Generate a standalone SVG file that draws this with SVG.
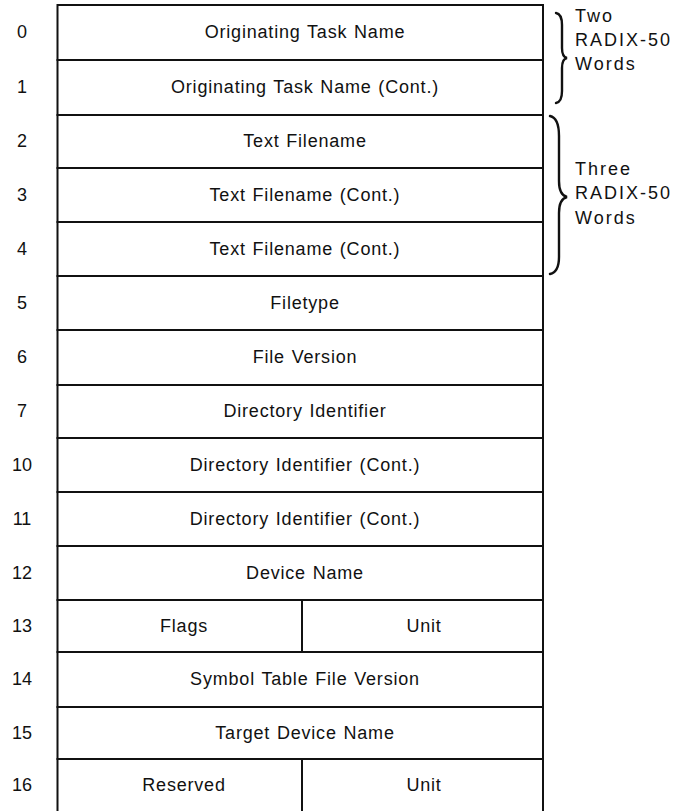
<svg xmlns="http://www.w3.org/2000/svg" width="678" height="811" viewBox="0 0 678 811">
<style>
.cell{fill:#fff;stroke:#111;stroke-width:2}
.t{font-family:"Liberation Sans",Arial,sans-serif;font-size:18px;fill:#111;text-anchor:middle;letter-spacing:0.8px;word-spacing:1px}
.n{font-family:"Liberation Sans",Arial,sans-serif;font-size:18px;fill:#111;text-anchor:middle}
.s{font-family:"Liberation Sans",Arial,sans-serif;font-size:18px;fill:#111;letter-spacing:2px}
.br{fill:none;stroke:#111;stroke-width:2.4;stroke-linecap:round}
</style>
<rect width="678" height="811" fill="#fff"/>
<g id="row0"><rect class="cell" x="57.5" y="5" width="485.5" height="55"/><text class="n" x="22" y="38">0</text><text class="t" x="305" y="38">Originating Task Name</text></g>
<g id="row1"><rect class="cell" x="57.5" y="60" width="485.5" height="55"/><text class="n" x="22" y="93">1</text><text class="t" x="305" y="93">Originating Task Name (Cont.)</text></g>
<g id="row2"><rect class="cell" x="57.5" y="115" width="485.5" height="53"/><text class="n" x="22" y="147">2</text><text class="t" x="305" y="147">Text Filename</text></g>
<g id="row3"><rect class="cell" x="57.5" y="168" width="485.5" height="54"/><text class="n" x="22" y="201">3</text><text class="t" x="305" y="201">Text Filename (Cont.)</text></g>
<g id="row4"><rect class="cell" x="57.5" y="222" width="485.5" height="54"/><text class="n" x="22" y="255">4</text><text class="t" x="305" y="255">Text Filename (Cont.)</text></g>
<g id="row5"><rect class="cell" x="57.5" y="276" width="485.5" height="54"/><text class="n" x="22" y="309">5</text><text class="t" x="305" y="309">Filetype</text></g>
<g id="row6"><rect class="cell" x="57.5" y="330" width="485.5" height="55"/><text class="n" x="22" y="363">6</text><text class="t" x="305" y="363">File Version</text></g>
<g id="row7"><rect class="cell" x="57.5" y="385" width="485.5" height="53"/><text class="n" x="22" y="417">7</text><text class="t" x="305" y="417">Directory Identifier</text></g>
<g id="row10"><rect class="cell" x="57.5" y="438" width="485.5" height="54"/><text class="n" x="22" y="471">10</text><text class="t" x="305" y="471">Directory Identifier (Cont.)</text></g>
<g id="row11"><rect class="cell" x="57.5" y="492" width="485.5" height="54"/><text class="n" x="22" y="525">11</text><text class="t" x="305" y="525">Directory Identifier (Cont.)</text></g>
<g id="row12"><rect class="cell" x="57.5" y="546" width="485.5" height="54"/><text class="n" x="22" y="579">12</text><text class="t" x="305" y="579">Device Name</text></g>
<g id="row13"><rect class="cell" x="57.5" y="600" width="244.5" height="52"/><rect class="cell" x="302" y="600" width="241" height="52"/><text class="n" x="22" y="632">13</text><text class="t" x="184" y="632">Flags</text><text class="t" x="424" y="632">Unit</text></g>
<g id="row14"><rect class="cell" x="57.5" y="652" width="485.5" height="55"/><text class="n" x="22" y="685">14</text><text class="t" x="305" y="685">Symbol Table File Version</text></g>
<g id="row15"><rect class="cell" x="57.5" y="707" width="485.5" height="52"/><text class="n" x="22" y="739">15</text><text class="t" x="305" y="739">Target Device Name</text></g>
<g id="row16"><rect class="cell" x="57.5" y="759" width="244.5" height="60"/><rect class="cell" x="302" y="759" width="241" height="60"/><text class="n" x="22" y="791">16</text><text class="t" x="184" y="791">Reserved</text><text class="t" x="424" y="791">Unit</text></g>
<g id="connectors">
<path class="br" d="M556 13 Q562 14 562 25 L562 48 Q562 57 567 58 Q562 59 562 68 L562 91 Q562 102 556 103"/>
<path class="br" d="M550 116 Q559 118 559 136 L559 181 Q559 195 567 197 Q559 199 559 213 L559 257 Q559 272 550 274"/>
</g>
<g id="note1"><text class="s" x="575" y="22">Two</text><text class="s" x="575" y="46">RADIX-50</text><text class="s" x="575" y="70">Words</text></g>
<g id="note2"><text class="s" x="575" y="175">Three</text><text class="s" x="575" y="199">RADIX-50</text><text class="s" x="575" y="224">Words</text></g>
</svg>
